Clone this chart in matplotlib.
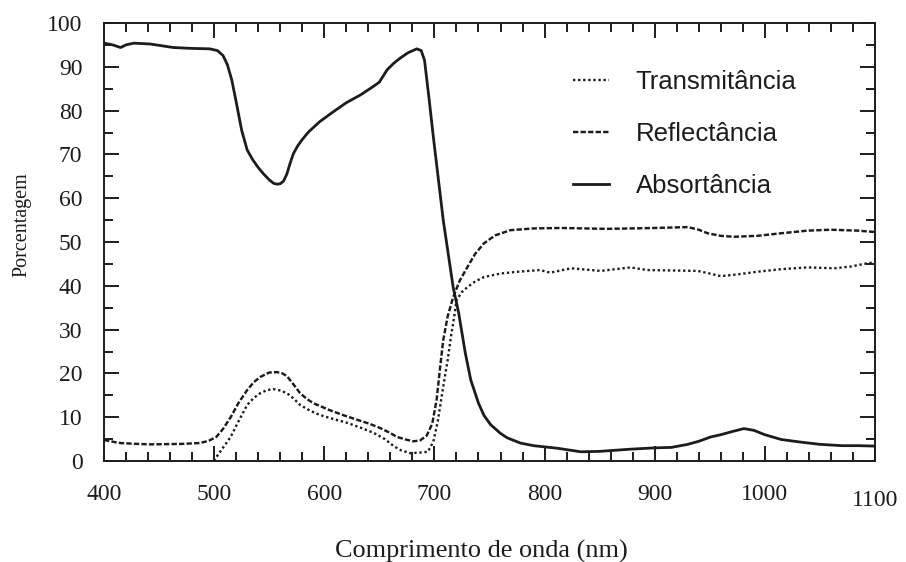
import matplotlib
matplotlib.use("Agg")
import matplotlib.pyplot as plt
from matplotlib.ticker import MultipleLocator

# Spectral curves of a leaf: wavelength (nm) vs. percentage
abs_nm = [400, 408, 415, 420, 427, 442, 463, 480, 496, 503, 508, 512, 516, 520,
          525, 530, 535, 540, 545, 550, 554, 557, 560, 563, 566, 569, 572, 576,
          580, 586, 596, 608, 620, 633, 645, 650, 657, 663, 669, 676, 684, 688,
          691, 695, 699, 708, 717, 722, 728, 733, 740, 745, 751, 760, 766, 778,
          790, 801, 812, 833, 850, 878, 900, 915, 930, 940, 951, 960, 970, 981,
          990, 1000, 1015, 1033, 1050, 1070, 1085, 1100]
abs_pct = [95.4, 95.0, 94.4, 95.0, 95.4, 95.2, 94.4, 94.2, 94.1, 93.7, 92.6, 90.5,
           87.0, 82.0, 75.5, 71.0, 68.8, 67.0, 65.5, 64.2, 63.4, 63.2, 63.3, 63.9,
           65.5, 68.0, 70.2, 72.0, 73.4, 75.2, 77.5, 79.7, 81.8, 83.6, 85.6, 86.5,
           89.3, 90.8, 92.0, 93.2, 94.1, 93.7, 91.5, 83.0, 74.0, 55.0, 39.7, 33.8,
           24.7, 18.5, 13.2, 10.4, 8.3, 6.3, 5.3, 4.1, 3.5, 3.2, 2.9, 2.1, 2.2,
           2.7, 3.0, 3.1, 3.8, 4.5, 5.5, 6.0, 6.7, 7.4, 7.0, 6.0, 4.9, 4.3, 3.8,
           3.5, 3.5, 3.4]

ref_nm = [400, 410, 415, 430, 442, 470, 487, 495, 502, 508, 515, 522, 530, 536,
          542, 550, 557, 562, 566, 572, 578, 584, 590, 605, 618, 630, 641, 651,
          659, 666, 674, 681, 687, 693, 698, 702, 705, 708, 712, 717, 723, 730,
          737, 745, 755, 769, 790, 815, 857, 900, 930, 940, 948, 960, 972, 993,
          1015, 1039, 1060, 1084, 1099]
ref_pct = [4.8, 4.3, 4.1, 3.9, 3.8, 3.9, 4.1, 4.6, 5.5, 7.3, 10.0, 13.2, 16.2,
           18.0, 19.2, 20.2, 20.3, 20.0, 19.4, 17.5, 15.5, 14.2, 13.2, 11.6, 10.4,
           9.4, 8.5, 7.5, 6.5, 5.5, 4.9, 4.5, 4.7, 5.8, 8.5, 14.0, 21.0, 27.6,
           33.0, 37.4, 41.2, 44.3, 47.3, 49.7, 51.5, 52.7, 53.1, 53.2, 53.0, 53.2,
           53.4, 52.8, 52.0, 51.4, 51.2, 51.4, 52.0, 52.6, 52.8, 52.6, 52.3]

tra_nm = [500, 502, 508, 515, 522, 530, 536, 542, 548, 554, 560, 566, 572, 578,
          587, 596, 608, 621, 633, 645, 655, 663, 670, 678, 686, 694, 699, 703,
          708, 712, 715, 718, 720, 725, 730, 737, 745, 760, 775, 796, 805, 824,
          851, 878, 893, 915, 939, 950, 960, 975, 993, 1015, 1039, 1063, 1078,
          1090, 1100]
tra_pct = [0.0, 0.9, 3.0, 5.5, 9.0, 12.8, 14.4, 15.5, 16.2, 16.4, 16.1, 15.5,
           14.3, 12.8, 11.5, 10.5, 9.6, 8.7, 7.6, 6.4, 5.0, 3.4, 2.4, 1.8, 1.9,
           2.1, 4.4, 9.0, 17.0, 23.0, 28.4, 33.0, 36.7, 38.6, 39.7, 41.0, 42.0,
           42.8, 43.2, 43.6, 43.0, 44.0, 43.4, 44.2, 43.6, 43.5, 43.4, 42.8, 42.2,
           42.6, 43.2, 43.8, 44.2, 44.0, 44.4, 45.0, 45.4]

series_labels = ["Transmitância", "Reflectância", "Absortância"]
x_ticks = [400, 500, 600, 700, 800, 900, 1000, 1100]
y_ticks = [0, 10, 20, 30, 40, 50, 60, 70, 80, 90, 100]

ink = "#1c1c1c"
serif = "Liberation Serif"
sans = "Liberation Sans"

fig = plt.figure(figsize=(9.06, 5.62), dpi=100)
ax = fig.add_axes([104 / 906, 101 / 562, 771 / 906, 438 / 562])

ax.plot(tra_nm, tra_pct, color=ink, lw=1.7, linestyle=(0, (1, 1.15)),
        label=series_labels[0])
ax.plot(ref_nm, ref_pct, color=ink, lw=1.75, linestyle=(0, (2.2, 0.9)),
        label=series_labels[1])
ax.plot(abs_nm, abs_pct, color=ink, lw=2.0, linestyle="-",
        label=series_labels[2])

ax.set_xlim(400, 1100)
ax.set_ylim(0, 100)
ax.set_xticks(x_ticks)
ax.set_yticks(y_ticks)
ax.xaxis.set_minor_locator(MultipleLocator(20))
ax.yaxis.set_minor_locator(MultipleLocator(5))

for sp in ax.spines.values():
    sp.set_linewidth(1.4)
    sp.set_color(ink)

ax.tick_params(which="both", direction="in", top=True, right=True,
               width=1.4, color=ink)
ax.tick_params(which="major", length=10.5)
ax.tick_params(which="minor", length=6.5)
ax.tick_params(axis="x", which="major", pad=16.5)
ax.tick_params(axis="y", which="major", pad=15.5)

for lab in ax.get_xticklabels() + ax.get_yticklabels():
    lab.set_fontfamily(serif)
    lab.set_fontsize(17)
    lab.set_color(ink)

# the last wavelength label sits a little lower than the others
ax.xaxis.get_major_ticks()[-1].label1.set_y(-0.014)

ax.set_xlabel("Comprimento de onda (nm)", fontfamily=serif, fontsize=18.9,
              color=ink)
ax.xaxis.set_label_coords(0.489, -0.181)
ax.set_ylabel("Porcentagem", fontfamily=serif, fontsize=14.5, color=ink)
ax.yaxis.set_label_coords(-0.0947, 0.539)

leg = ax.legend(loc="upper left", bbox_to_anchor=(0.608, 0.8936), frameon=False,
                prop={"family": sans, "size": 18.5}, handlelength=1.4,
                handletextpad=1.05, labelspacing=1.1, borderpad=0,
                borderaxespad=0)
for t in leg.get_texts():
    t.set_color(ink)

fig.savefig("out.png", dpi=100)
